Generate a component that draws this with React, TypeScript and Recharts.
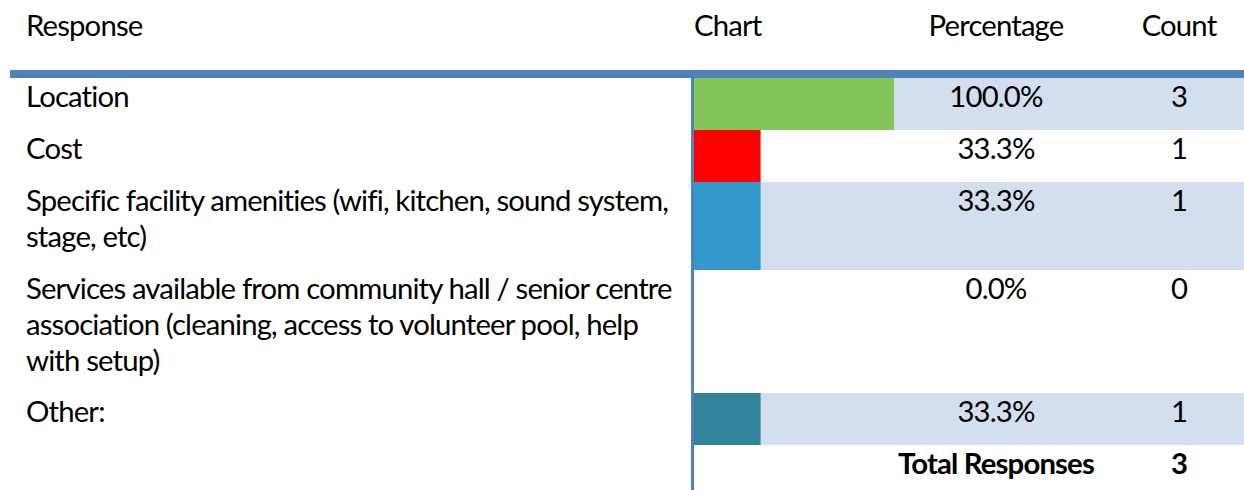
import React from "react";
import { Bar, BarChart, XAxis, YAxis } from "recharts";

const headers = ["Response", "Chart", "Percentage", "Count"];
const responses = [
  "Location",
  "Cost",
  "Specific facility amenities (wifi, kitchen, sound system, stage, etc)",
  "Services available from community hall / senior centre association (cleaning, access to volunteer pool, help with setup)",
  "Other:",
];
const percentages = [100.0, 33.3, 33.3, 0.0, 33.3];
const counts = [3, 1, 1, 0, 1];
const barColors = ["#82C55B", "#FF0000", "#3399CC", "#8064A2", "#31849B"];
const totalLabel = "Total Responses";
const totalCount = 3;

// layout
const rowTops = [78, 130, 182, 270, 393, 445];
const FONT = "Lato, 'Open Sans', sans-serif";
const FS = 29.3;
const LH = "35.8px";
const BAND = "#D3DFEE";
const RULE = "#4F81BD";
const CHART_X = 694;
const CHART_W = 200;
const PCT_C = 996;
const CNT_C = 1179;

// the reference is set in Calibri; Lato runs a little wide, so squeeze it to the same line length
const CALIB_TEXT = "Services available from community hall / senior centre";
const CALIB_WIDTH = 647;

function letterSpacingFor(): number {
  const ctx = document.createElement("canvas").getContext("2d");
  if (!ctx) return 0;
  ctx.font = `${FS}px Lato`;
  const w = ctx.measureText(CALIB_TEXT).width;
  return (CALIB_WIDTH - w) / CALIB_TEXT.length;
}

function Centered({ cx, top, children, bold }: { cx: number; top: number; children: React.ReactNode; bold?: boolean }) {
  return (
    <div
      style={{
        position: "absolute",
        left: cx - 120,
        width: 240,
        top,
        textAlign: "center",
        fontWeight: bold ? 700 : 400,
        lineHeight: LH,
      }}
    >
      {children}
    </div>
  );
}

function RowBar({ name, pct, color, height }: { name: string; pct: number; color: string; height: number }) {
  return (
    <BarChart
      width={CHART_W}
      height={height}
      data={[{ name, pct }]}
      layout="vertical"
      margin={{ top: 0, right: 0, bottom: 0, left: 0 }}
      barCategoryGap={0}
    >
      <XAxis type="number" domain={[0, 100]} hide />
      <YAxis type="category" dataKey="name" hide />
      <Bar dataKey="pct" fill={color} isAnimationActive={false} />
    </BarChart>
  );
}

export default function App() {
  const ls = React.useMemo(letterSpacingFor, []);
  return (
    <div
      style={{
        position: "absolute",
        left: 0,
        top: 0,
        width: 1244,
        height: 490,
        background: "#fff",
        overflow: "hidden",
        fontFamily: FONT,
        fontSize: FS,
        letterSpacing: ls,
        color: "#000",
      }}
    >
      {/* header */}
      <div style={{ position: "absolute", left: 26, top: 7, lineHeight: LH }}>{headers[0]}</div>
      <div style={{ position: "absolute", left: CHART_X, top: 7, lineHeight: LH }}>{headers[1]}</div>
      <Centered cx={PCT_C} top={7}>{headers[2]}</Centered>
      <Centered cx={CNT_C} top={7}>{headers[3]}</Centered>
      <div style={{ position: "absolute", left: 10, top: 70, width: 1234, height: 8, background: RULE }} />

      {responses.map((r, i) => {
        const top = rowTops[i];
        const h = rowTops[i + 1] - top;
        return (
          <React.Fragment key={r}>
            {i % 2 === 0 && (
              <div style={{ position: "absolute", left: CHART_X, top, width: 1244 - CHART_X, height: h, background: BAND }} />
            )}
            <div style={{ position: "absolute", left: 26, top, width: 662, lineHeight: LH }}>{r}</div>
            <div style={{ position: "absolute", left: CHART_X, top }}>
              <RowBar name={r} pct={percentages[i]} color={barColors[i]} height={h} />
            </div>
            <Centered cx={PCT_C} top={top}>{percentages[i].toFixed(1) + "%"}</Centered>
            <Centered cx={CNT_C} top={top}>{counts[i]}</Centered>
          </React.Fragment>
        );
      })}

      <Centered cx={PCT_C} top={rowTops[5]} bold>{totalLabel}</Centered>
      <Centered cx={CNT_C} top={rowTops[5]} bold>{totalCount}</Centered>

      <div style={{ position: "absolute", left: 691, top: 78, width: 3, height: 412, background: RULE }} />
    </div>
  );
}
